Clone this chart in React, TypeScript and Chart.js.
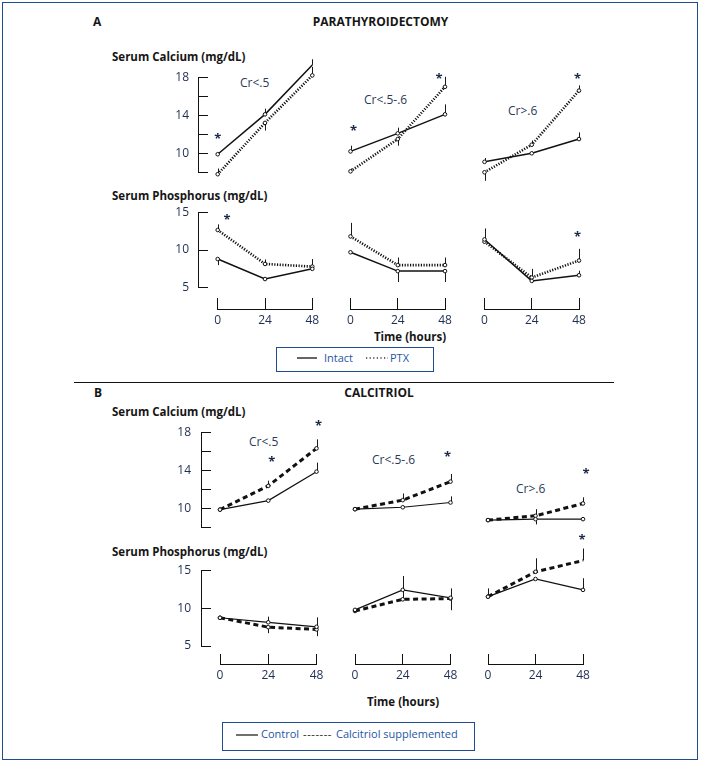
import React, { useEffect, useRef } from 'react';
import { Chart, registerables } from 'chart.js';

Chart.register(...registerables);

const FONT = "'Open Sans', 'Noto Sans', 'DejaVu Sans', sans-serif";
const TICK_COLOR = '#1e2f52';
const TEXT_COLOR = '#161616';
const LABEL_COLOR = '#2a3a58';
const LEGEND_COLOR = '#1f56a3';
const FRAME_COLOR = '#1d4c8f';
const AXIS_COLOR = '#111111';
const STAR_COLOR = '#1b2a49';

// ---------------- data ----------------
const HOURS = [0, 24, 48];
const TIME_STEP = 24;
const CR_GROUPS = ['Cr<.5', 'Cr<.5-.6', 'Cr>.6'];
const CA_RANGE = [8, 18];
const CA_STEP = 2;
const CA_LABELED = [10, 14, 18];
const P_RANGE = [5, 15];
const P_STEP = 5;
const P_LABELED = [5, 10, 15];

// A  PARATHYROIDECTOMY — serum calcium
const A_CA_INTACT_1 = [9.9, 14.1, 19.3];
const A_CA_INTACT_1_ERR = [0, 0.6, 0.6];
const A_CA_PTX_1 = [7.8, 13.2, 18.2];
const A_CA_PTX_1_ERR = [0.6, -0.8, 0.9];
const A_CA_INTACT_2 = [10.2, 12.1, 14.1];
const A_CA_INTACT_2_ERR = [0.6, 0.6, 1.05];
const A_CA_PTX_2 = [8.1, 11.5, 17.0];
const A_CA_PTX_2_ERR = [0.3, -0.7, 1.05];
const A_CA_INTACT_3 = [9.1, 10.0, 11.5];
const A_CA_INTACT_3_ERR = [0.4, 0, 0.7];
const A_CA_PTX_3 = [8.0, 10.9, 16.6];
const A_CA_PTX_3_ERR = [-0.9, 0.45, 0.55];
const A_CA_STARS_1 = [[0, 11.8]];
const A_CA_STARS_2 = [[1.5, 12.7], [45, 18.1]];
const A_CA_STARS_3 = [[47.2, 18.1]];

// A  PARATHYROIDECTOMY — serum phosphorus
const A_P_INTACT_1 = [8.8, 6.15, 7.5];
const A_P_INTACT_1_ERR = [-0.8, 0, 0];
const A_P_PTX_1 = [12.65, 8.15, 7.8];
const A_P_PTX_1_ERR = [0.75, 0.6, 1.0];
const A_P_INTACT_2 = [9.7, 7.2, 7.2];
const A_P_INTACT_2_ERR = [0, -1.45, -1.45];
const A_P_PTX_2 = [11.8, 8.0, 8.0];
const A_P_PTX_2_ERR = [1.8, 1.0, 1.0];
const A_P_INTACT_3 = [11.4, 5.9, 6.65];
const A_P_INTACT_3_ERR = [1.45, 0, 0.6];
const A_P_PTX_3 = [11.1, 6.35, 8.6];
const A_P_PTX_3_ERR = [1.7, 1.15, 1.55];
const A_P_STARS_1 = [[4.7, 14.4]];
const A_P_STARS_2: number[][] = [];
const A_P_STARS_3 = [[47.2, 12.1]];

// B  CALCITRIOL — serum calcium
const B_CA_CONTROL_1 = [9.9, 10.85, 13.9];
const B_CA_CONTROL_1_ERR = [0, 0, 0.95];
const B_CA_CALC_1 = [9.9, 12.4, 16.35];
const B_CA_CALC_1_ERR = [0, 0.55, 0.95];
const B_CA_CONTROL_2 = [9.95, 10.15, 10.65];
const B_CA_CONTROL_2_ERR = [0, 0, 0.65];
const B_CA_CALC_2 = [9.95, 10.9, 12.85];
const B_CA_CALC_2_ERR = [0, 0.7, 0.8];
const B_CA_CONTROL_3 = [8.8, 8.9, 8.9];
const B_CA_CONTROL_3_ERR = [0, -0.55, 0];
const B_CA_CALC_3 = [8.8, 9.25, 10.55];
const B_CA_CALC_3_ERR = [0, 0.7, 0.65];
const B_CA_STARS_1 = [[25.8, 15.2], [49, 19.0]];
const B_CA_STARS_2 = [[46.5, 15.75]];
const B_CA_STARS_3 = [[49.5, 14.0]];

// B  CALCITRIOL — serum phosphorus
const B_P_CONTROL_1 = [8.75, 8.15, 7.55];
const B_P_CONTROL_1_ERR = [0, 0.75, 1.25];
const B_P_CALC_1 = [8.75, 7.5, 7.2];
const B_P_CALC_1_ERR = [0, -0.8, -0.9];
const B_P_CONTROL_2 = [9.8, 12.45, 11.4];
const B_P_CONTROL_2_ERR = [0, 1.85, 1.25];
const B_P_CALC_2 = [9.65, 11.2, 11.3];
const B_P_CALC_2_ERR = [0, 1.2, -1.55];
const B_P_CONTROL_3 = [11.55, 13.9, 12.45];
const B_P_CONTROL_3_ERR = [1.1, 0, 1.55];
const B_P_CALC_3 = [11.55, 14.85, 16.35];
const B_P_CALC_3_ERR = [0, 1.8, 1.6];
const B_P_STARS_1: number[][] = [];
const B_P_STARS_2: number[][] = [];
const B_P_STARS_3 = [[47.5, 19.5]];

// ---------------- layout (pixels) ----------------
type RowGeom = {
  min: number; max: number; step: number; labeled: number[];
  topPx: number; botPx: number; axisX: number; tickLen: number; labelPad: number;
};
type ColGeom = { x0: number; x48: number };

const ROW_GEOM: Record<string, RowGeom> = {
  aCa: { min: CA_RANGE[0], max: CA_RANGE[1], step: CA_STEP, labeled: CA_LABELED, topPx: 77.3, botPx: 172.3, axisX: 198, tickLen: 10, labelPad: 9 },
  aP: { min: P_RANGE[0], max: P_RANGE[1], step: P_STEP, labeled: P_LABELED, topPx: 212.3, botPx: 287.7, axisX: 198, tickLen: 10, labelPad: 9 },
  bCa: { min: CA_RANGE[0], max: CA_RANGE[1], step: CA_STEP, labeled: CA_LABELED, topPx: 432.7, botPx: 527.7, axisX: 201, tickLen: 10, labelPad: 10 },
  bP: { min: P_RANGE[0], max: P_RANGE[1], step: P_STEP, labeled: P_LABELED, topPx: 570.7, botPx: 646, axisX: 201, tickLen: 10, labelPad: 10 },
};

const COL_GEOM: Record<string, ColGeom[]> = {
  A: [{ x0: 217.7, x48: 312.3 }, { x0: 350.5, x48: 445 }, { x0: 484.5, x48: 579 }],
  B: [{ x0: 220, x48: 316.5 }, { x0: 355, x48: 450.5 }, { x0: 488, x48: 583 }],
};

const BRACKET_GEOM: Record<string, { top: number; bottom: number; labelPad: number }> = {
  A: { top: 298, bottom: 309, labelPad: 4 },
  B: { top: 654, bottom: 664, labelPad: 4 },
};

type LineStyle = { color: string; width: number; dash: number[] };
const STYLE_INTACT: LineStyle = { color: '#111', width: 1.5, dash: [] };
const STYLE_PTX: LineStyle = { color: '#111', width: 2.6, dash: [1.2, 1.5] };
const STYLE_CONTROL: LineStyle = { color: '#111', width: 1.2, dash: [] };
const STYLE_CALC: LineStyle = { color: '#111', width: 3, dash: [5, 3.5] };

type Series = { vals: number[]; err: number[]; style: LineStyle };
type Panel = { key: string; row: string; section: string; col: number; series: Series[]; stars: number[][] };

const PANELS: Panel[] = [
  { key: 'aca1', row: 'aCa', section: 'A', col: 0, stars: A_CA_STARS_1, series: [
    { vals: A_CA_INTACT_1, err: A_CA_INTACT_1_ERR, style: STYLE_INTACT },
    { vals: A_CA_PTX_1, err: A_CA_PTX_1_ERR, style: STYLE_PTX }] },
  { key: 'aca2', row: 'aCa', section: 'A', col: 1, stars: A_CA_STARS_2, series: [
    { vals: A_CA_INTACT_2, err: A_CA_INTACT_2_ERR, style: STYLE_INTACT },
    { vals: A_CA_PTX_2, err: A_CA_PTX_2_ERR, style: STYLE_PTX }] },
  { key: 'aca3', row: 'aCa', section: 'A', col: 2, stars: A_CA_STARS_3, series: [
    { vals: A_CA_INTACT_3, err: A_CA_INTACT_3_ERR, style: STYLE_INTACT },
    { vals: A_CA_PTX_3, err: A_CA_PTX_3_ERR, style: STYLE_PTX }] },
  { key: 'ap1', row: 'aP', section: 'A', col: 0, stars: A_P_STARS_1, series: [
    { vals: A_P_INTACT_1, err: A_P_INTACT_1_ERR, style: STYLE_INTACT },
    { vals: A_P_PTX_1, err: A_P_PTX_1_ERR, style: STYLE_PTX }] },
  { key: 'ap2', row: 'aP', section: 'A', col: 1, stars: A_P_STARS_2, series: [
    { vals: A_P_INTACT_2, err: A_P_INTACT_2_ERR, style: STYLE_INTACT },
    { vals: A_P_PTX_2, err: A_P_PTX_2_ERR, style: STYLE_PTX }] },
  { key: 'ap3', row: 'aP', section: 'A', col: 2, stars: A_P_STARS_3, series: [
    { vals: A_P_INTACT_3, err: A_P_INTACT_3_ERR, style: STYLE_INTACT },
    { vals: A_P_PTX_3, err: A_P_PTX_3_ERR, style: STYLE_PTX }] },
  { key: 'bca1', row: 'bCa', section: 'B', col: 0, stars: B_CA_STARS_1, series: [
    { vals: B_CA_CONTROL_1, err: B_CA_CONTROL_1_ERR, style: STYLE_CONTROL },
    { vals: B_CA_CALC_1, err: B_CA_CALC_1_ERR, style: STYLE_CALC }] },
  { key: 'bca2', row: 'bCa', section: 'B', col: 1, stars: B_CA_STARS_2, series: [
    { vals: B_CA_CONTROL_2, err: B_CA_CONTROL_2_ERR, style: STYLE_CONTROL },
    { vals: B_CA_CALC_2, err: B_CA_CALC_2_ERR, style: STYLE_CALC }] },
  { key: 'bca3', row: 'bCa', section: 'B', col: 2, stars: B_CA_STARS_3, series: [
    { vals: B_CA_CONTROL_3, err: B_CA_CONTROL_3_ERR, style: STYLE_CONTROL },
    { vals: B_CA_CALC_3, err: B_CA_CALC_3_ERR, style: STYLE_CALC }] },
  { key: 'bp1', row: 'bP', section: 'B', col: 0, stars: B_P_STARS_1, series: [
    { vals: B_P_CONTROL_1, err: B_P_CONTROL_1_ERR, style: STYLE_CONTROL },
    { vals: B_P_CALC_1, err: B_P_CALC_1_ERR, style: STYLE_CALC }] },
  { key: 'bp2', row: 'bP', section: 'B', col: 1, stars: B_P_STARS_2, series: [
    { vals: B_P_CONTROL_2, err: B_P_CONTROL_2_ERR, style: STYLE_CONTROL },
    { vals: B_P_CALC_2, err: B_P_CALC_2_ERR, style: STYLE_CALC }] },
  { key: 'bp3', row: 'bP', section: 'B', col: 2, stars: B_P_STARS_3, series: [
    { vals: B_P_CONTROL_3, err: B_P_CONTROL_3_ERR, style: STYLE_CONTROL },
    { vals: B_P_CALC_3, err: B_P_CALC_3_ERR, style: STYLE_CALC }] },
];

// ---------------- plugins ----------------
const errorBarPlugin = {
  id: 'errorBars',
  beforeDatasetsDraw(chart: any) {
    const ctx = chart.ctx;
    const ys = chart.scales.y;
    ctx.save();
    ctx.strokeStyle = '#1a1a1a';
    ctx.lineWidth = 1;
    chart.data.datasets.forEach((ds: any, di: number) => {
      const meta = chart.getDatasetMeta(di);
      (ds.errors || []).forEach((e: number, i: number) => {
        if (!e) return;
        const pt = meta.data[i];
        if (!pt) return;
        const v = ds.data[i].y;
        const y2 = ys.getPixelForValue(v + e);
        const x = Math.round(pt.x) + 0.5;
        ctx.beginPath();
        ctx.moveTo(x, pt.y);
        ctx.lineTo(x, y2);
        ctx.stroke();
      });
    });
    ctx.restore();
  },
};

function makeStarPlugin(stars: number[][]) {
  return {
    id: 'stars',
    afterDatasetsDraw(chart: any) {
      const ctx = chart.ctx;
      const xs = chart.scales.x;
      const ys = chart.scales.y;
      ctx.save();
      ctx.font = `bold 13px ${FONT}`;
      ctx.fillStyle = STAR_COLOR;
      ctx.textAlign = 'center';
      ctx.textBaseline = 'alphabetic';
      const m = ctx.measureText('*');
      const off = (m.actualBoundingBoxAscent - m.actualBoundingBoxDescent) / 2;
      stars.forEach(([h, v]) => {
        ctx.fillText('*', xs.getPixelForValue(h), ys.getPixelForValue(v) + off);
      });
      ctx.restore();
    },
  };
}

// ---------------- components ----------------
type Box = { left: number; top: number; width: number; height: number };

function ChartBox({ box, make }: { box: Box; make: (c: HTMLCanvasElement) => Chart }) {
  const ref = useRef<HTMLCanvasElement>(null);
  useEffect(() => {
    const ch = make(ref.current as HTMLCanvasElement);
    return () => ch.destroy();
  }, []);
  return (
    <div style={{ position: 'absolute', left: box.left, top: box.top, width: box.width, height: box.height }}>
      <canvas ref={ref} />
    </div>
  );
}

const baseOpts = {
  animation: false as const,
  responsive: true,
  maintainAspectRatio: false,
  events: [] as any[],
  plugins: { legend: { display: false }, tooltip: { enabled: false }, title: { display: false } },
};

function DataPanel({ p }: { p: Panel }) {
  const g = ROW_GEOM[p.row];
  const c = COL_GEOM[p.section][p.col];
  const padT = 40, padB = 30, padX = 14;
  const left = Math.floor(c.x0 - padX);
  const right = Math.ceil(c.x48 + padX);
  const top = Math.floor(g.topPx - padT);
  const bottom = Math.ceil(g.botPx + padB);
  const box = { left, top, width: right - left, height: bottom - top };
  const make = (cv: HTMLCanvasElement) =>
    new Chart(cv, {
      type: 'line',
      data: {
        datasets: p.series.map((s) => ({
          data: HOURS.map((h, i) => ({ x: h, y: s.vals[i] })),
          errors: s.err,
          borderColor: s.style.color,
          borderWidth: s.style.width,
          borderDash: s.style.dash,
          borderCapStyle: 'butt',
          pointRadius: 1.8,
          pointBorderWidth: 1,
          pointBackgroundColor: '#ffffff',
          pointBorderColor: '#111',
          tension: 0,
          fill: false,
          clip: false,
        })) as any,
      },
      options: {
        ...baseOpts,
        layout: {
          autoPadding: false,
          padding: { left: c.x0 - left, right: right - c.x48, top: g.topPx - top, bottom: bottom - g.botPx },
        },
        scales: {
          x: { type: 'linear', display: false, min: HOURS[0], max: HOURS[HOURS.length - 1] },
          y: { type: 'linear', display: false, min: g.min, max: g.max },
        },
      } as any,
      plugins: [errorBarPlugin, makeStarPlugin(p.stars)],
    });
  return <ChartBox box={box} make={make} />;
}

function YAxisChart({ row }: { row: string }) {
  const g = ROW_GEOM[row];
  const W = 50;
  const padV = 26;
  const left = g.axisX - W;
  const top = Math.floor(g.topPx - padV);
  const bottom = Math.ceil(g.botPx + padV);
  const box = { left, top, width: W + g.tickLen, height: bottom - top };
  const make = (cv: HTMLCanvasElement) =>
    new Chart(cv, {
      type: 'line',
      data: { datasets: [] },
      options: {
        ...baseOpts,
        layout: { autoPadding: false, padding: { left: 0, right: 0, top: g.topPx - top, bottom: bottom - g.botPx } },
        scales: {
          x: { type: 'linear', display: false, min: 0, max: 1 },
          y: {
            type: 'linear',
            position: 'left',
            min: g.min,
            max: g.max,
            ticks: {
              stepSize: g.step,
              autoSkip: false,
              padding: g.labelPad,
              color: TICK_COLOR,
              font: { family: FONT, size: 12 },
              callback: (v: any) => (g.labeled.includes(Number(v)) ? String(v) : ''),
            },
            grid: { drawOnChartArea: true, drawTicks: false, color: AXIS_COLOR, lineWidth: 1 },
            border: { display: true, color: AXIS_COLOR, width: 1 },
            afterFit: (s: any) => { s.width = W; },
          },
        },
      } as any,
    });
  return <ChartBox box={box} make={make} />;
}

function TimeBracket({ section, col }: { section: string; col: number }) {
  const c = COL_GEOM[section][col];
  const b = BRACKET_GEOM[section];
  const padX = 22;
  const H = 24;
  const left = Math.floor(c.x0 - padX);
  const right = Math.ceil(c.x48 + padX);
  const box = { left, top: b.top, width: right - left, height: b.bottom - b.top + H };
  const make = (cv: HTMLCanvasElement) =>
    new Chart(cv, {
      type: 'line',
      data: { datasets: [] },
      options: {
        ...baseOpts,
        layout: { autoPadding: false, padding: { left: c.x0 - left, right: right - c.x48, top: 0, bottom: 0 } },
        scales: {
          x: {
            type: 'linear',
            position: 'bottom',
            min: HOURS[0],
            max: HOURS[HOURS.length - 1],
            ticks: {
              stepSize: TIME_STEP,
              autoSkip: false,
              maxRotation: 0,
              padding: b.labelPad,
              color: TICK_COLOR,
              font: { family: FONT, size: 12 },
            },
            grid: { drawOnChartArea: true, drawTicks: false, color: AXIS_COLOR, lineWidth: 1 },
            border: { display: true, color: AXIS_COLOR, width: 1 },
            afterFit: (s: any) => { s.height = H; },
          },
          y: { type: 'linear', display: false, min: 0, max: 1 },
        },
      } as any,
    });
  return <ChartBox box={box} make={make} />;
}

function T({ x, cy, size = 12, bold = false, color = TEXT_COLOR, anchor = 'start', spacing = 0, children }: any) {
  const lh = Math.round(size * 1.3);
  const style: React.CSSProperties = {
    position: 'absolute',
    left: x,
    top: cy - lh / 2 - 0.4,
    lineHeight: lh + 'px',
    fontSize: size,
    fontWeight: bold ? 700 : 400,
    color,
    whiteSpace: 'nowrap',
    fontFamily: FONT,
    letterSpacing: spacing,
  };
  if (anchor === 'middle') style.transform = 'translateX(-50%)';
  return <div style={style}>{children}</div>;
}

function LineSample({ x1, x2, y, width, dash, color }: any) {
  return (
    <svg style={{ position: 'absolute', left: x1, top: y - 3, overflow: 'visible' }} width={x2 - x1} height={6}>
      <line x1={0} y1={3} x2={x2 - x1} y2={3} stroke={color} strokeWidth={width} strokeDasharray={dash} />
    </svg>
  );
}

const CR_POS = {
  A: [[240, 83], [364, 100.7], [508, 111]],
  B: [[249, 442], [372, 460], [516, 489]],
};

export default function App() {
  return (
    <div style={{ position: 'absolute', left: 0, top: 0, width: 701, height: 766, background: '#fff', overflow: 'hidden', fontFamily: FONT }}>
      <div style={{ position: 'absolute', left: 2, top: 2, width: 696, height: 758, border: `1.5px solid ${FRAME_COLOR}`, boxSizing: 'border-box' }} />
      <div style={{ position: 'absolute', left: 74, top: 381.5, width: 540, height: 0, borderTop: '1px solid #111' }} />

      {/* Section A */}
      <T x={93} cy={22.7} bold size={12}>A</T>
      <T x={380.5} cy={22.7} bold size={12} anchor="middle">PARATHYROIDECTOMY</T>
      <T x={112} cy={57} bold size={11.5}>Serum Calcium (mg/dL)</T>
      <T x={112} cy={196} bold size={11.5}>Serum Phosphorus (mg/dL)</T>
      {CR_GROUPS.map((c, i) => (
        <T key={'a' + c} x={CR_POS.A[i][0]} cy={CR_POS.A[i][1]} size={12} color={LABEL_COLOR}>{c}</T>
      ))}
      <T x={410} cy={337} bold size={11.5} anchor="middle">Time (hours)</T>
      <div style={{ position: 'absolute', left: 276, top: 347, width: 158, height: 25, border: `1.3px solid ${FRAME_COLOR}`, boxSizing: 'border-box' }} />
      <LineSample x1={297} x2={317} y={357.5} width={1.3} color="#111" />
      <T x={324} cy={358} size={11} color={LEGEND_COLOR}>Intact</T>
      <LineSample x1={366} x2={388} y={357.5} width={1.3} dash="1.2 2.4" color="#333" />
      <T x={390} cy={358} size={11} color={LEGEND_COLOR}>PTX</T>

      {/* Section B */}
      <T x={94} cy={393} bold size={12}>B</T>
      <T x={379} cy={393} bold size={12} anchor="middle">CALCITRIOL</T>
      <T x={112} cy={412} bold size={11.5}>Serum Calcium (mg/dL)</T>
      <T x={112} cy={552} bold size={11.5}>Serum Phosphorus (mg/dL)</T>
      {CR_GROUPS.map((c, i) => (
        <T key={'b' + c} x={CR_POS.B[i][0]} cy={CR_POS.B[i][1]} size={12} color={LABEL_COLOR}>{c}</T>
      ))}
      <T x={403} cy={702} bold size={11.5} anchor="middle">Time (hours)</T>
      <div style={{ position: 'absolute', left: 222, top: 722, width: 253, height: 29, border: `1.3px solid ${FRAME_COLOR}`, boxSizing: 'border-box' }} />
      <LineSample x1={236} x2={258} y={735} width={1.2} color="#111" />
      <T x={261} cy={734.5} size={11} color={LEGEND_COLOR}>Control</T>
      <T x={303} cy={734.5} size={11} color="#222" spacing={0.6}>-------</T>
      <T x={336} cy={734.5} size={11} color={LEGEND_COLOR}>Calcitriol supplemented</T>

      {/* axes */}
      {['aCa', 'aP', 'bCa', 'bP'].map((r) => <YAxisChart key={'y' + r} row={r} />)}
      {['A', 'B'].map((s) => [0, 1, 2].map((ci) => <TimeBracket key={'t' + s + ci} section={s} col={ci} />))}

      {/* data panels */}
      {PANELS.map((p) => <DataPanel key={p.key} p={p} />)}
    </div>
  );
}
